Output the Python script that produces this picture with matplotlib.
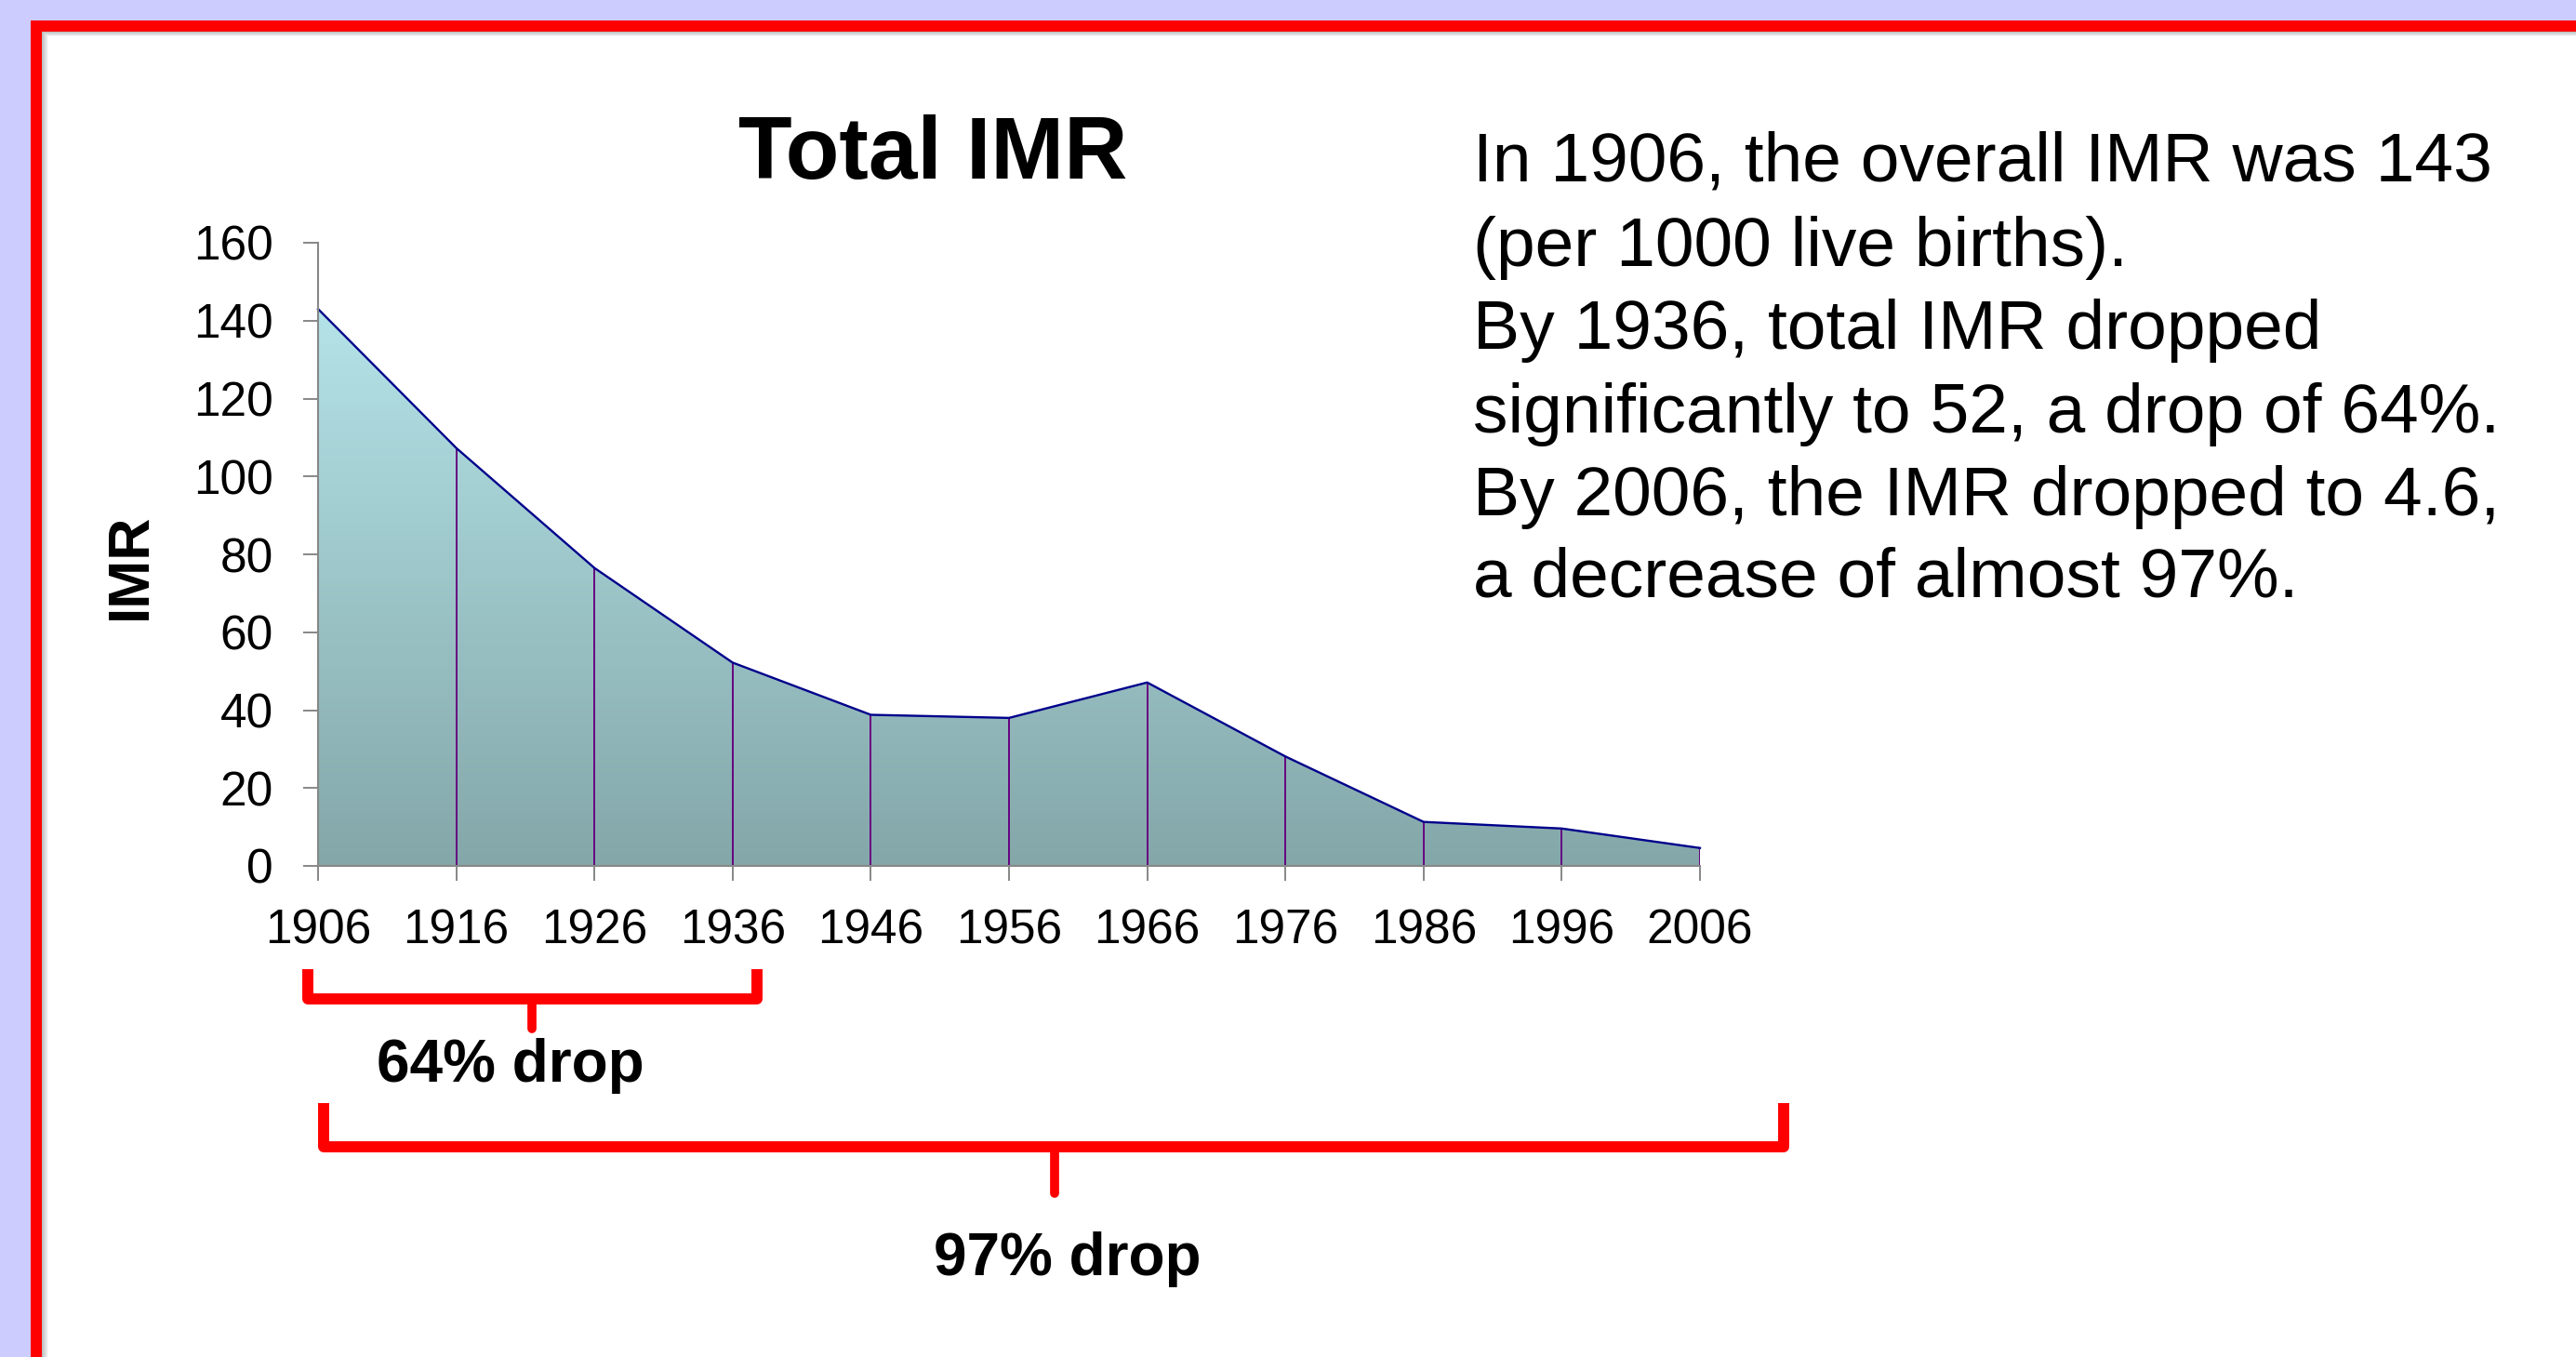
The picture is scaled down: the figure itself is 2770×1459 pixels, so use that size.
import numpy as np
import matplotlib
matplotlib.use('Agg')
import matplotlib.pyplot as plt
from matplotlib.patches import Rectangle, Polygon
from matplotlib.lines import Line2D
from matplotlib.colors import LinearSegmentedColormap

# data
years = [1906, 1916, 1926, 1936, 1946, 1956, 1966, 1976, 1986, 1996, 2006]
imr = [143, 107.3, 76.5, 52.2, 38.8, 38.0, 47.1, 28.1, 11.3, 9.6, 4.6]
yticks = [0, 20, 40, 60, 80, 100, 120, 140, 160]
title = 'Total IMR'
ylabel = 'IMR'
notes = ['In 1906, the overall IMR was 143',
         '(per 1000 live births).',
         'By 1936, total IMR dropped',
         'significantly to 52, a drop of 64%.',
         'By 2006, the IMR dropped to 4.6,',
         'a decrease of almost 97%.']
brace_labels = ['64% drop', '97% drop']

W, H = 2770, 1459
plt.rcParams['font.family'] = ['Liberation Sans', 'DejaVu Sans']
fig = plt.figure(figsize=(W / 100, H / 100), dpi=100, facecolor='#CCCCFF')


def fx(x):
    return x / W


def fy(y):
    return 1 - y / H


# slide frame: red border, soft grey shadow, white inside
fig.add_artist(Rectangle((fx(33), -0.05), 1.2, fy(22) + 0.05,
                         transform=fig.transFigure, color='#FF0000', zorder=-10, lw=0))
greys = np.linspace(0.74, 1.0, 8)
for i, g in enumerate(greys):
    fig.add_artist(Rectangle((fx(45 + i), -0.05), 1.2, fy(34 + i * 0.7) + 0.05,
                             transform=fig.transFigure, color=(g, g, g), zorder=-9, lw=0))

# chart
ax = fig.add_axes([fx(342), fy(931), fx(1828) - fx(342), fy(261) - fy(931)])
ax.patch.set_alpha(0)

cmap = LinearSegmentedColormap.from_list('teal', ['#84A7A9', '#B4E3E8'])
grad = np.linspace(0, 1, 256).reshape(-1, 1)
im = ax.imshow(grad, extent=[years[0], years[-1], 0, max(imr)], origin='lower',
               aspect='auto', cmap=cmap, zorder=1)
verts = list(zip(years, imr)) + [(years[-1], 0), (years[0], 0)]
clip = Polygon(verts, closed=True, transform=ax.transData, facecolor='none', edgecolor='none')
ax.add_patch(clip)
im.set_clip_path(clip)

ax.vlines(years, 0, imr, colors='#660080', lw=1.4, zorder=2)
ax.plot(years, imr, color='#00008B', lw=1.7, zorder=3, clip_on=False)

ax.set_xlim(years[0], years[-1])
ax.set_ylim(0, 160)
ax.set_xticks(years)
ax.set_yticks(yticks)
for s in ['top', 'right']:
    ax.spines[s].set_visible(False)
for s in ['left', 'bottom']:
    ax.spines[s].set_color('#878787')
    ax.spines[s].set_linewidth(1.5)
    ax.spines[s].set_zorder(4)
ax.tick_params(direction='out', length=11.5, width=1.4, color='#878787', labelsize=37)
ax.tick_params(axis='y', pad=23)
ax.tick_params(axis='x', pad=21)

fig.text(fx(1003), fy(192), title, ha='center', va='baseline', fontsize=68, fontweight='bold')
fig.text(fx(140), fy(609), ylabel, ha='center', va='center', rotation=90,
         fontsize=45, fontweight='bold')

baselines = [195, 286, 375, 465, 554, 641]
for line, b in zip(notes, baselines):
    fig.text(fx(1584), fy(b), line, ha='left', va='baseline', fontsize=54)


# red braces under the x axis
def brace(L, R, top, bar, tip, mid):
    fig.add_artist(Line2D([fx(L), fx(L), fx(R), fx(R)], [fy(top), fy(bar), fy(bar), fy(top)],
                          transform=fig.transFigure, color='#FF0000', lw=8.6,
                          solid_joinstyle='round', solid_capstyle='butt'))
    fig.add_artist(Line2D([fx(mid), fx(mid)], [fy(bar), fy(tip)],
                          transform=fig.transFigure, color='#FF0000', lw=7,
                          solid_capstyle='round'))


brace(331, 814, 1042, 1074, 1106, 572)
brace(348, 1918, 1186, 1233, 1283, 1134)
fig.text(fx(549), fy(1163), brace_labels[0], ha='center', va='baseline',
         fontsize=46, fontweight='bold')
fig.text(fx(1148), fy(1371), brace_labels[1], ha='center', va='baseline',
         fontsize=46, fontweight='bold')

fig.savefig('out.png', dpi=100, facecolor=fig.get_facecolor())
